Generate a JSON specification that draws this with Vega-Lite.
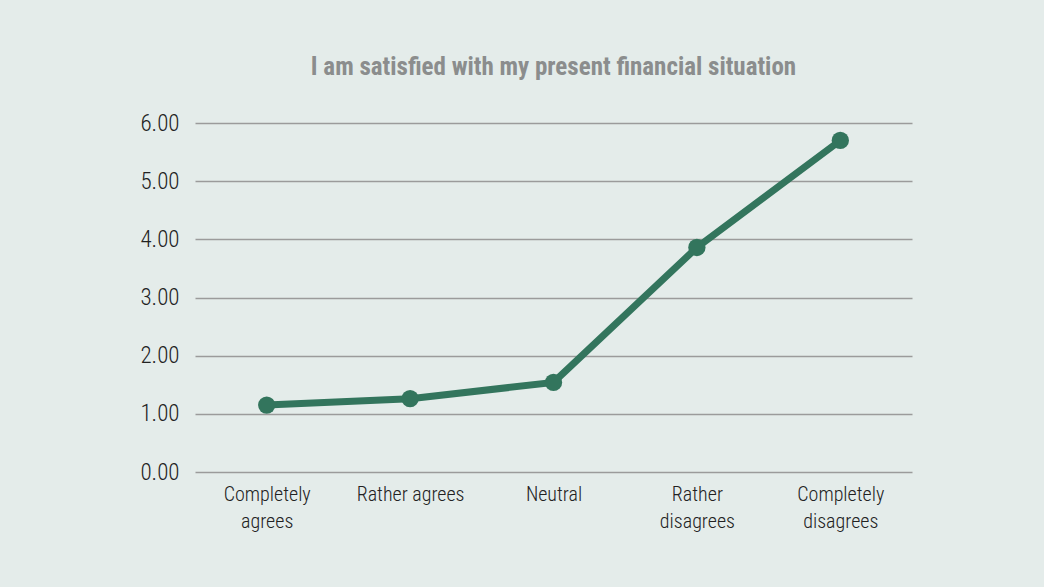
{
  "$schema": "https://vega.github.io/schema/vega-lite/v6.json",
  "width": 717,
  "height": 349,
  "autosize": "none",
  "padding": {"left": 195, "top": 123, "right": 132, "bottom": 115},
  "background": "#e4ecea",
  "title": {
    "text": "I am satisfied with my present financial situation",
    "font": "Roboto Condensed, Liberation Sans Narrow, DejaVu Sans Condensed, sans-serif",
    "fontSize": 25,
    "fontWeight": "bold",
    "color": "#8b8d8d",
    "anchor": "middle",
    "offset": 32
  },
  "config": {
    "view": {"stroke": null},
    "axis": {
      "labelFont": "Roboto Condensed, Liberation Sans Narrow, DejaVu Sans Condensed, sans-serif",
      "labelFontSize": 20,
      "labelFontWeight": 300,
      "labelColor": "#222222"
    }
  },
  "data": {
    "values": [
      {"response": "Completely agrees", "value": 1.15},
      {"response": "Rather agrees", "value": 1.26},
      {"response": "Neutral", "value": 1.54},
      {"response": "Rather disagrees", "value": 3.86},
      {"response": "Completely disagrees", "value": 5.70}
    ]
  },
  "mark": {"type": "line", "color": "#33755d", "strokeWidth": 7, "point": {"filled": true, "size": 300, "color": "#33755d"}},
  "encoding": {
    "x": {
      "field": "response",
      "type": "nominal",
      "sort": null,
      "title": null,
      "axis": {
        "labelAngle": 0,
        "domain": false,
        "ticks": false,
        "labelPadding": 12,
        "labelLineHeight": 27,
        "labelExpr": "datum.value == 'Rather agrees' ? datum.value : split(datum.value, ' ')"
      }
    },
    "y": {
      "field": "value",
      "type": "quantitative",
      "title": null,
      "scale": {"domain": [0, 6]},
      "axis": {
        "values": [0, 1, 2, 3, 4, 5, 6],
        "format": ".2f",
        "domain": false,
        "ticks": false,
        "labelPadding": 16,
        "labelFontSize": 23,
        "gridColor": "#9b9b9b",
        "gridWidth": 1.5
      }
    }
  }
}
